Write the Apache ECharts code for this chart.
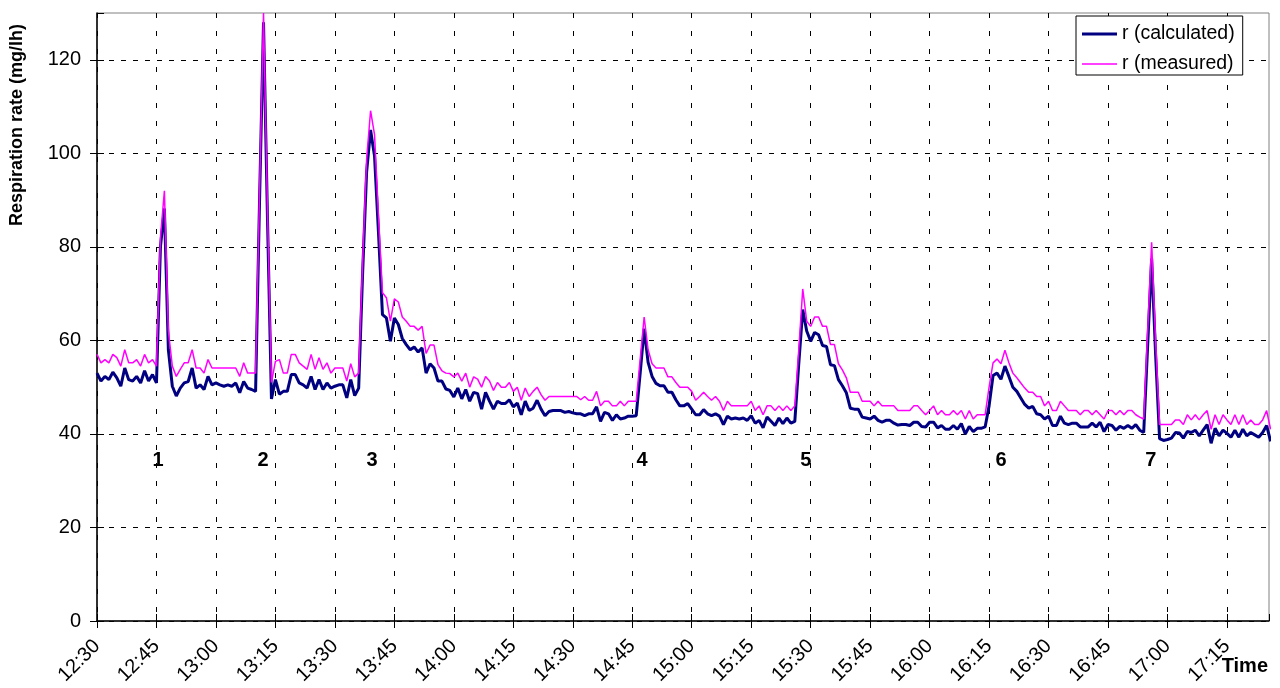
<!DOCTYPE html>
<html>
<head>
<meta charset="utf-8">
<script src="https://cdn.jsdelivr.net/npm/echarts@6/dist/echarts.min.js"></script>
<style>
  html, body { margin: 0; padding: 0; background: #fff; }
  #chart { width: 1280px; height: 688px; }
</style>
</head>
<body>
<div id="chart"></div>
<script>
// Respiration rate logged once a minute, starting at 12:30.
const startClock = 12 * 60 + 30;   // minutes after midnight of the first sample
const sampleStep = 1;              // minutes between samples
const timeSpan = 295.6;            // minutes shown on the time axis

const seriesNames = ['r (calculated)', 'r (measured)'];

const calculated = [
  53.0, 51.3, 52.3, 51.6, 53.2, 52.0, 50.2, 54.1, 51.6, 51.3,
  52.3, 50.9, 53.5, 51.3, 52.7, 50.9, 80, 88.2, 58, 50.2,
  48.1, 49.8, 50.9, 51.2, 54.1, 49.8, 50.5, 49.5, 52.3, 50.5,
  50.9, 50.5, 50.2, 50.5, 50.2, 50.9, 48.8, 51.2, 49.8, 49.5,
  49.1, 90, 128, 86, 47.5, 51.6, 48.5, 49.1, 49.1, 52.7,
  52.7, 50.9, 50.5, 49.8, 52.3, 49.5, 51.6, 49.5, 50.9, 49.8,
  50.2, 50.5, 50.5, 47.7, 51.6, 48.2, 49.8, 74.5, 96, 105,
  99.4, 83, 65.5, 64.8, 59.8, 64.8, 63.4, 60.4, 59.1, 58,
  58.6, 57.5, 58.4, 53, 55, 54.1, 51.3, 51.3, 49.6, 49.3,
  47.9, 49.8, 47.5, 49.5, 47, 48.9, 48.6, 45.3, 48.9, 47,
  45.3, 47, 46.5, 46.5, 47.3, 45.8, 46.6, 44.1, 47, 45,
  45.5, 47.2, 45.3, 43.9, 44.8, 45, 45, 45, 44.6, 44.8,
  44.5, 44.3, 44.3, 43.9, 44.3, 44.3, 45.8, 42.7, 44.6, 44.3,
  42.9, 44.1, 43.2, 43.4, 43.8, 43.8, 43.9, 53, 62.5, 55.3,
  52.3, 50.8, 50.3, 50.3, 48.9, 48.9, 47.3, 46, 46, 46.5,
  45.3, 44.1, 44.1, 45.2, 44.3, 43.9, 44.3, 43.8, 42, 43.8,
  43.2, 43.4, 43.2, 43.4, 42.9, 43.9, 42.3, 42.9, 41.3, 43.6,
  42.7, 41.8, 43.4, 42.2, 43.4, 42.3, 42.7, 55, 66.6, 62,
  59.8, 61.7, 61.2, 58.9, 58.7, 54.8, 54.6, 51.6, 50.3, 48.8,
  45.5, 45.3, 45.3, 43.6, 43.4, 43.2, 43.8, 42.9, 42.5, 42.9,
  42.9, 42.3, 41.9, 42, 42, 41.8, 42.5, 42.5, 41.6, 41.5,
  42.5, 42.5, 41.3, 41.8, 41, 41, 41.8, 41, 42.2, 40,
  41.6, 40.5, 41.2, 41.2, 41.5, 46, 52.5, 53, 51.7, 54.5,
  52.3, 50, 49.1, 47.7, 46.3, 45.5, 45.9, 44.3, 44.1, 43.2,
  43.8, 41.8, 41.8, 43.8, 42.3, 42, 42.3, 42.3, 41.5, 41.5,
  41.5, 42.3, 41.5, 42.5, 40.5, 42, 41.8, 40.8, 41.6, 41.2,
  41.8, 41.2, 42, 40.8, 40.3, 59, 77.5, 57, 39, 38.6,
  38.8, 39.1, 40.3, 40.2, 39.1, 40.5, 40.3, 40.8, 39.6, 40.8,
  42, 38, 41.2, 39.6, 40.8, 40.1, 39.3, 40.8, 39.3, 41,
  39.6, 40.3, 39.8, 39.3, 40.3, 41.8, 38.4
];

const measured = [
  57.0, 55.2, 55.9, 55.2, 57.0, 56.3, 54.5, 58.0, 55.2, 55.2,
  55.9, 54.5, 57.0, 55.2, 55.9, 54.5, 82, 92, 62, 54.5,
  52.3, 53.8, 55.2, 55.2, 58.0, 54.1, 54.1, 53.0, 55.9, 54.1,
  54.1, 54.1, 54.1, 54.1, 54.1, 54.1, 52.3, 55.2, 53.0, 53.0,
  53.0, 92, 130, 88, 51, 55.5, 55.9, 53, 53, 57,
  57, 55.2, 54.5, 53.8, 57, 53.8, 56.3, 53.8, 55.2, 53.0,
  54.1, 54.1, 54.1, 51.3, 55, 52.2, 53, 77, 98.7, 109.1,
  104, 86.6, 70.2, 69.1, 64.1, 68.9, 68.2, 65, 64.1, 63,
  63, 62.2, 63, 57.2, 59, 59, 54.8, 53.5, 53, 52.9,
  52.2, 53, 51.3, 53, 50, 52.2, 51.7, 50, 52.3, 51.3,
  49.3, 51, 50, 50, 51, 49.1, 50, 47.2, 49.8, 48,
  49.1, 50, 48.4, 47.2, 48, 48, 48, 48, 48, 48,
  48, 48, 47.3, 48, 47.2, 47.2, 49.1, 46, 47, 47,
  46, 46, 47, 46, 47, 47, 47, 56, 65, 58,
  55, 54.1, 54.1, 54.1, 52.2, 52.2, 51, 50, 50, 50,
  49.1, 47.2, 48, 48.9, 48, 47.2, 48, 47, 45, 47,
  46, 46, 46, 46, 46, 47, 45, 46, 44.1, 46,
  46, 45, 46, 45, 46, 45, 46, 58, 71, 64.1,
  63, 65, 65, 63, 63, 59.1, 59.1, 55, 53.7, 52,
  48.9, 48.9, 48.9, 47, 47, 47, 46, 47, 46, 46,
  46, 46, 45, 45, 45, 45, 46, 46, 45, 44.1,
  45, 46, 44.1, 45, 44.1, 44.1, 45, 44.1, 45, 43.2,
  45, 43.2, 44.1, 44.1, 44.1, 50, 55.2, 56, 55, 57.9,
  55.2, 53, 52, 50.9, 49.8, 48.9, 48.9, 48, 48, 46,
  47, 45, 45, 47, 46, 45, 45, 45, 44.1, 45,
  45, 44.1, 45, 44.1, 43.2, 45, 45, 44.1, 45, 44.1,
  45, 45, 44.1, 43.6, 43.2, 62, 81, 60, 42, 42,
  42, 42, 43, 43, 42, 44.1, 43, 44.1, 43, 44.1,
  45, 41, 44.1, 42, 44.1, 43, 42, 44.1, 42, 44.1,
  42, 43, 42, 42, 43, 45, 41
];

// Numbered pulses: minutes after 12:30 at which each one was given
const eventNames = ['1', '2', '3', '4', '5', '6', '7'];
const eventTimes = [15.4, 41.9, 69.4, 137.5, 178.8, 228, 265.8];
const eventLabelLevel = 34.3;  // rate level at which the pulse numbers sit

const yMax = 130;
const yStep = 20;
const xStep = 15;

const FONT = '"Liberation Sans", Arial, sans-serif';

const toPairs = arr => arr.map((v, i) => [i * sampleStep, v]);
const clockLabel = v => {
  if (Math.abs(v % xStep) > 1e-6) return '';
  const t = startClock + v;
  return Math.floor(t / 60) + ':' + String(t % 60).padStart(2, '0');
};

const chart = echarts.init(document.getElementById('chart'), null, { renderer: 'canvas' });

const xBase = {
  type: 'value', min: 0, max: timeSpan, interval: xStep, position: 'bottom'
};
const yBase = {
  type: 'value', min: 0, max: yMax, interval: yStep, position: 'left'
};

// Plain line swatches for the legend (bounding box padded with move-to points)
const thickSwatch = 'path://M0,0 M35,3 M0,0H35V3H0Z';
const thinSwatch = 'path://M0,0 M35,3 M0,0.8H35V2.2H0Z';

chart.setOption({
  animation: false,
  backgroundColor: '#fff',
  grid: {
    left: 97, right: 11, top: 13, bottom: 67,
    show: true, borderColor: '#808080', borderWidth: 1, backgroundColor: 'transparent'
  },
  xAxis: [
    Object.assign({}, xBase, {
      axisLine: { show: true, onZero: false, lineStyle: { color: '#000', width: 1.5 } },
      axisTick: { show: true, length: 7, lineStyle: { color: '#000' } },
      axisLabel: {
        rotate: 45, formatter: clockLabel, showMaxLabel: false,
        fontSize: 20, color: '#000', fontFamily: FONT, margin: 22
      },
      splitLine: { show: true, showMaxLine: false, lineStyle: { color: '#000', width: 1, type: [5, 13] } }
    }),
    Object.assign({}, xBase, {
      axisLine: { show: false },
      axisTick: { show: true, inside: true, length: 7, lineStyle: { color: '#000' } },
      axisLabel: { show: false },
      splitLine: { show: false }
    })
  ],
  yAxis: [
    Object.assign({}, yBase, {
      axisLine: { show: true, onZero: false, lineStyle: { color: '#000', width: 1.5 } },
      axisTick: { show: true, length: 7, lineStyle: { color: '#000' } },
      axisLabel: {
        showMaxLabel: false, fontSize: 20, color: '#000', fontFamily: FONT, margin: 16
      },
      splitLine: { show: true, showMaxLine: false, lineStyle: { color: '#000', width: 1, type: [5, 7] } }
    }),
    Object.assign({}, yBase, {
      axisLine: { show: false },
      axisTick: { show: true, inside: true, length: 7, lineStyle: { color: '#000' } },
      axisLabel: { show: false },
      splitLine: { show: false }
    })
  ],
  legend: {
    data: [
      { name: seriesNames[0], icon: thickSwatch, itemStyle: { color: '#000080' } },
      { name: seriesNames[1], icon: thinSwatch, itemStyle: { color: '#ff00ff' } }
    ],
    orient: 'vertical',
    left: 1076, top: 16,
    padding: [7, 8, 0, 6],
    itemGap: 8,
    itemWidth: 35, itemHeight: 3,
    backgroundColor: '#fff', borderColor: '#000', borderWidth: 1,
    textStyle: { fontSize: 19.5, color: '#000', fontFamily: FONT, lineHeight: 22 }
  },
  series: [
    {
      name: seriesNames[0], type: 'line', data: toPairs(calculated),
      symbol: 'none', showSymbol: false, clip: true, z: 2,
      lineStyle: { color: '#000080', width: 3 }, itemStyle: { color: '#000080' }
    },
    {
      name: seriesNames[1], type: 'line', data: toPairs(measured),
      symbol: 'none', showSymbol: false, clip: true, z: 3,
      lineStyle: { color: '#ff00ff', width: 1.5 }, itemStyle: { color: '#ff00ff' }
    },
    {
      name: 'pulses', type: 'scatter', silent: true, z: 4,
      data: eventTimes.map((t, i) => ({ name: eventNames[i], value: [t, eventLabelLevel] })),
      symbolSize: 1, itemStyle: { color: 'rgba(0,0,0,0)', opacity: 1 },
      label: {
        show: true, position: 'inside', formatter: '{b}',
        fontSize: 20, fontWeight: 'bold', color: '#000', fontFamily: FONT,
        textBorderWidth: 0
      }
    }
  ],
  graphic: [
    {
      type: 'text', x: 17, y: 125, rotation: Math.PI / 2,
      style: {
        text: 'Respiration rate (mg/lh)', fill: '#000',
        font: 'bold 18px "Liberation Sans", Arial, sans-serif',
        textAlign: 'center', textVerticalAlign: 'middle'
      }
    },
    {
      type: 'text', x: 1268, y: 666,
      style: {
        text: 'Time', fill: '#000',
        font: 'bold 20px "Liberation Sans", Arial, sans-serif',
        textAlign: 'right', textVerticalAlign: 'middle'
      }
    }
  ]
});
</script>
</body>
</html>
